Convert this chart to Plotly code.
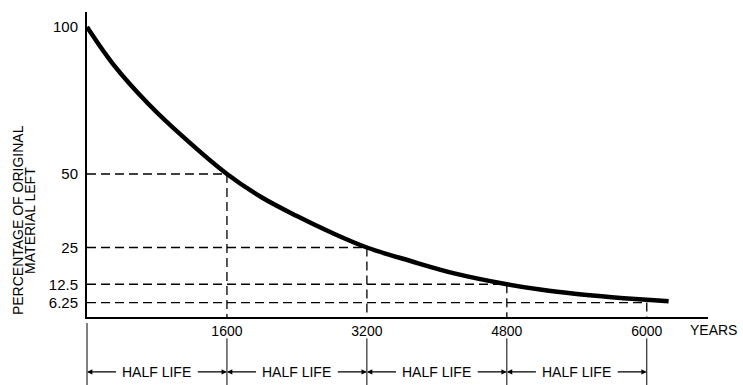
import plotly.graph_objects as go

# Decay curve of the original material (percent remaining vs. years)
years = [0, 300, 700, 1100, 1600, 2000, 2400, 2800, 3200, 3700,
         4200, 4800, 5200, 5600, 6000, 6400, 6650]
percent_left = [100, 87.3, 73.9, 62.6, 50, 42.0, 35.7, 30.0, 25, 20.4,
                16.2, 12.5, 10.6, 9.2, 8.1, 7.2, 6.7]

# Half-life markers (years elapsed, percent remaining)
marker_years = [1600, 3200, 4800, 6400]
marker_percent = [50, 25, 12.5, 6.25]

# Axis labels
y_tick_vals = [6.25, 12.5, 25, 50, 100]
y_tick_text = ["6.25", "12.5", "25", "50", "100"]
x_tick_vals = [1600, 3200, 4800, 6400]
x_tick_text = ["1600", "3200", "4800", "6000"]

X_MAX = 7100
Y_MIN, Y_MAX = 1.36, 105.1
FONT = "Liberation Sans"

fig = go.Figure()

# dashed guide lines from each axis to the curve
for yr, pc in zip(marker_years, marker_percent):
    fig.add_trace(go.Scatter(x=[0, yr], y=[pc, pc], mode="lines",
                             line=dict(color="black", width=1.3, dash="9px,5px"),
                             hoverinfo="skip", showlegend=False))
    fig.add_trace(go.Scatter(x=[yr, yr], y=[pc, Y_MIN], mode="lines",
                             line=dict(color="black", width=1.3, dash="9px,5px"),
                             hoverinfo="skip", showlegend=False))

# the decay curve
fig.add_trace(go.Scatter(x=years, y=percent_left, mode="lines",
                         line=dict(color="black", width=4.5, shape="spline", smoothing=1.0),
                         showlegend=False))

shapes = []
annotations = []

# boundary lines below the axis
bounds = [0] + marker_years
for i, yr in enumerate(bounds):
    shapes.append(dict(type="line", xref="paper", yref="paper",
                       x0=yr / X_MAX, x1=yr / X_MAX,
                       y0=-0.02 if i == 0 else -0.07, y1=-0.23,
                       line=dict(color="black", width=1)))

# "HALF LIFE" spans with arrows to each boundary
row_y = -0.18
gap = 450
for a, b in zip(bounds[:-1], bounds[1:]):
    mid = (a + b) / 2
    annotations.append(dict(x=mid, y=row_y, xref="x", yref="paper", text="HALF LIFE",
                            xanchor="center", yanchor="middle", showarrow=False,
                            font=dict(family=FONT, size=14, color="black")))
    for head, tail in ((a, mid - gap), (b, mid + gap)):
        annotations.append(dict(x=head, y=row_y, xref="x", yref="paper",
                                ax=tail, ay=0, axref="x", ayref="pixel",
                                text="", showarrow=True, arrowhead=2, arrowsize=0.9,
                                arrowwidth=1.2, arrowcolor="black", standoff=0))

annotations.append(dict(x=0.968, y=-0.043, xref="paper", yref="paper", text="YEARS",
                        xanchor="left", yanchor="middle", showarrow=False,
                        font=dict(family=FONT, size=14, color="black")))

# y-axis title in two lines
annotations.append(dict(x=-0.111, y=0.318, xref="paper", yref="paper",
                        text="PERCENTAGE OF ORIGINAL", textangle=-90, showarrow=False,
                        xanchor="center", yanchor="middle",
                        font=dict(family=FONT, size=14, color="black")))
annotations.append(dict(x=-0.092, y=0.318, xref="paper", yref="paper",
                        text="MATERIAL LEFT", textangle=-90, showarrow=False,
                        xanchor="center", yanchor="middle",
                        font=dict(family=FONT, size=14, color="black")))

fig.update_layout(
    width=743, height=385,
    margin=dict(l=87, r=35, t=12, b=68),
    paper_bgcolor="white", plot_bgcolor="white",
    shapes=shapes, annotations=annotations,
    font=dict(family=FONT, size=14, color="black"),
    xaxis=dict(range=[0, X_MAX], showgrid=False, zeroline=False, showline=True,
               linecolor="black", linewidth=2, ticks="",
               tickvals=x_tick_vals, ticktext=x_tick_text),
    yaxis=dict(range=[Y_MIN, Y_MAX], showgrid=False, zeroline=False, showline=True,
               linecolor="black", linewidth=2, ticks="", ticklabelstandoff=4,
               tickvals=y_tick_vals, ticktext=y_tick_text,
               tickfont=dict(family=FONT, size=15, color="black")),
)

fig.write_html("out.html")
